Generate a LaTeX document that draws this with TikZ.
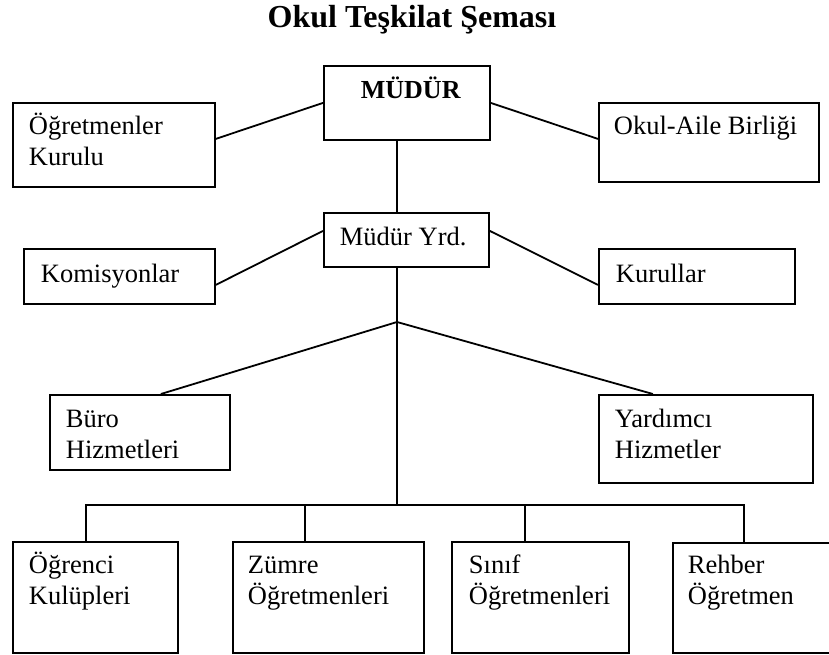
\documentclass[tikz,border=0pt]{standalone}
\usepackage{fontspec}
\setmainfont{Liberation Serif}
\begin{document}
\begin{tikzpicture}[x=1pt,y=-1pt,line width=1.8pt,
    kutu/.style={draw,rectangle,inner sep=0pt,anchor=north west},
    yazi/.style={anchor=base west,inner sep=0pt,align=left,font=\fontsize{26.5}{31}\selectfont}]
    \useasboundingbox (0,0) rectangle (829,655);
    \node[anchor=base,inner sep=0pt,font=\fontsize{32}{38}\selectfont\bfseries] (baslik) at (412,28) {Okul Teşkilat Şeması};
    \node[kutu,minimum width=166pt,minimum height=74pt] (mudur) at (323,65) {};
    \node[kutu,minimum width=202pt,minimum height=84pt] (ogk) at (12,102) {};
    \node[kutu,minimum width=220pt,minimum height=79pt] (oab) at (598,102) {};
    \node[kutu,minimum width=165pt,minimum height=54pt] (myrd) at (323,212) {};
    \node[kutu,minimum width=191pt,minimum height=55pt] (kom) at (23,248) {};
    \node[kutu,minimum width=196pt,minimum height=55pt] (kur) at (598,248) {};
    \node[kutu,minimum width=180pt,minimum height=75pt] (buro) at (49,394) {};
    \node[kutu,minimum width=214pt,minimum height=88pt] (yrd) at (598,394) {};
    \node[kutu,minimum width=165pt,minimum height=111pt] (ogr) at (12,541) {};
    \node[kutu,minimum width=191pt,minimum height=111pt] (zum) at (232,541) {};
    \node[kutu,minimum width=177pt,minimum height=111pt] (sinif) at (451,541) {};
    \node[kutu,minimum width=162pt,minimum height=110pt] (reh) at (672,542) {};
    \node[yazi,font=\fontsize{26}{31}\selectfont\bfseries] (mudurT) at (360,99) {MÜDÜR};
    \node[yazi] (ogkT) at (28,166) {Öğretmenler\\Kurulu};
    \node[yazi] (oabT) at (613,135) {Okul-Aile Birliği};
    \node[yazi] (myrdT) at (339,245) {Müdür Yrd.};
    \node[yazi] (komT) at (40,282) {Komisyonlar};
    \node[yazi] (kurT) at (615,282) {Kurullar};
    \node[yazi] (buroT) at (65,458) {Büro\\Hizmetleri};
    \node[yazi] (yrdT) at (614,458) {Yardımcı\\Hizmetler};
    \node[yazi] (ogrT) at (28,604) {Öğrenci\\Kulüpleri};
    \node[yazi] (zumT) at (247,604) {Zümre\\Öğretmenleri};
    \node[yazi] (sinifT) at (468,604) {Sınıf\\Öğretmenleri};
    \node[yazi] (rehT) at (687,604) {Rehber\\Öğretmen};
    \coordinate (govde) at (397,322);
    \coordinate (bara) at (397,505);
    \draw (mudur.west) -- ([yshift=6pt]ogk.east);
    \draw (mudur.east) -- ([yshift=3.5pt]oab.west);
    \draw (govde |- mudur.south) -- (govde |- myrd.north);
    \draw ([yshift=9pt]myrd.west) -- ([yshift=-8.5pt]kom.east);
    \draw ([yshift=9pt]myrd.east) -- ([yshift=-8.5pt]kur.west);
    \draw (govde |- myrd.south) -- (bara);
    \draw (govde) -- ([xshift=21pt]buro.north);
    \draw (govde) -- ([xshift=-53pt]yrd.north);
    \foreach \d/\k in {86/ogr,305/zum,525/sinif,744/reh}
        \coordinate (c\k) at (\d,505);
    \draw (cogr |- ogr.north) -- (cogr) -- (creh) -- (creh |- reh.north);
    \draw (czum) -- (czum |- zum.north);
    \draw (csinif) -- (csinif |- sinif.north);
\end{tikzpicture}
\end{document}
